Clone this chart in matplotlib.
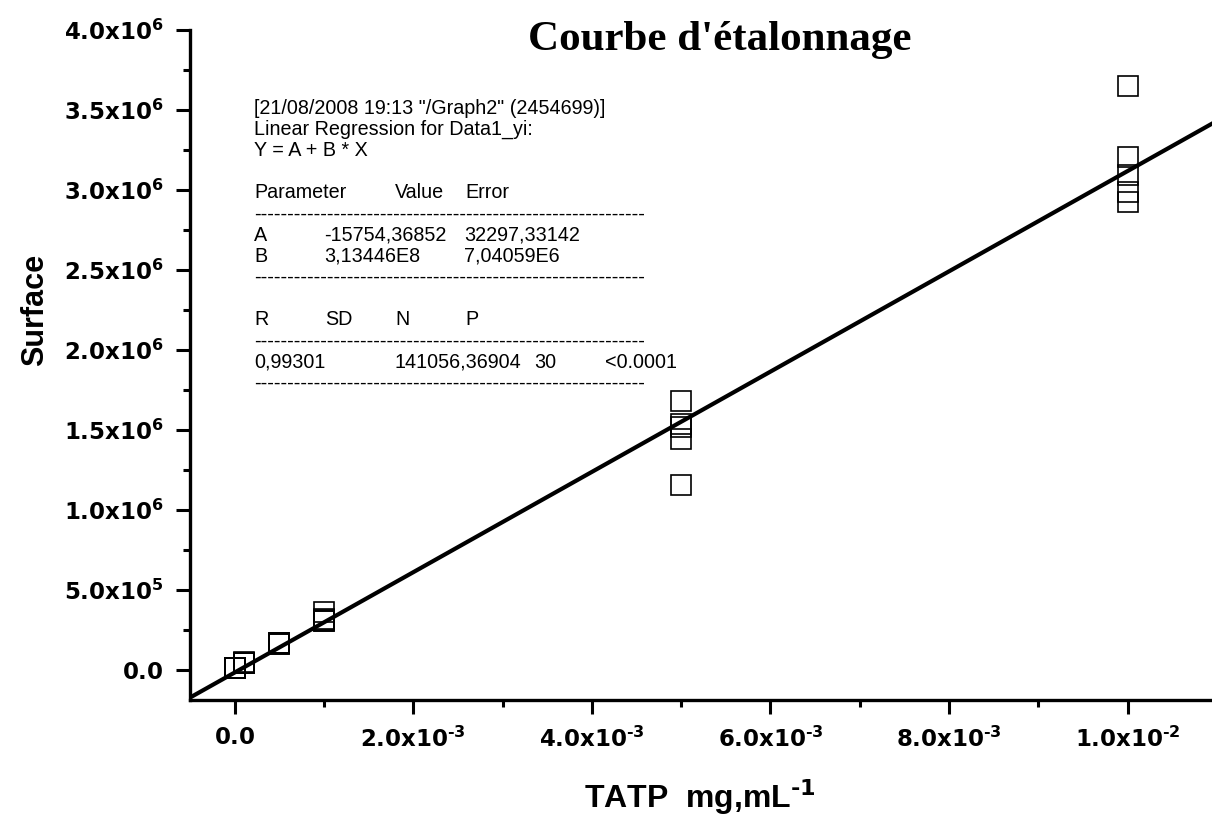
import matplotlib
matplotlib.use("Agg")
import matplotlib.pyplot as plt
from matplotlib.ticker import FixedLocator, MultipleLocator

plt.rcParams["font.family"] = ["Liberation Sans", "DejaVu Sans"]
plt.rcParams["mathtext.fontset"] = "custom"
plt.rcParams["mathtext.rm"] = "DejaVu Sans:bold"
plt.rcParams["mathtext.bf"] = "DejaVu Sans:bold"
plt.rcParams["mathtext.it"] = "DejaVu Sans:bold"

# Calibration measurements: concentration (mg/mL) and peak area, 5 replicates per level
conc = [0.0] * 5 + [1e-4] * 5 + [5e-4] * 5 + [1e-3] * 5 + [5e-3] * 5 + [1e-2] * 5
area = [0.012e6, 0.012e6, 0.013e6, 0.011e6, 0.012e6,
        0.046e6, 0.046e6, 0.047e6, 0.045e6, 0.046e6,
        0.165e6, 0.167e6, 0.166e6, 0.167e6, 0.165e6,
        0.360e6, 0.320e6, 0.307e6, 0.310e6, 0.308e6,
        1.682e6, 1.540e6, 1.519e6, 1.446e6, 1.154e6,
        3.651e6, 3.206e6, 3.096e6, 2.985e6, 2.925e6]

# Linear regression results Y = A + B * X
coef_a = -15754.36852
coef_b = 3.13446e8

x_ticks = [0.0, 2e-3, 4e-3, 6e-3, 8e-3, 1e-2]
x_labels = [r"$\text{0.0}$", r"$\text{2.0x10}^{\text{-3}}$", r"$\text{4.0x10}^{\text{-3}}$",
            r"$\text{6.0x10}^{\text{-3}}$", r"$\text{8.0x10}^{\text{-3}}$",
            r"$\text{1.0x10}^{\text{-2}}$"]
y_ticks = [0.0, 0.5e6, 1.0e6, 1.5e6, 2.0e6, 2.5e6, 3.0e6, 3.5e6, 4.0e6]
y_labels = [r"$\text{0.0}$", r"$\text{5.0x10}^{\text{5}}$", r"$\text{1.0x10}^{\text{6}}$",
            r"$\text{1.5x10}^{\text{6}}$", r"$\text{2.0x10}^{\text{6}}$",
            r"$\text{2.5x10}^{\text{6}}$", r"$\text{3.0x10}^{\text{6}}$",
            r"$\text{3.5x10}^{\text{6}}$", r"$\text{4.0x10}^{\text{6}}$"]

report_header = ['[21/08/2008 19:13 "/Graph2" (2454699)]',
                 "Linear Regression for Data1_yi:",
                 "Y = A + B * X"]
param_cols = ["Parameter", "Value", "Error"]
param_rows = [["A", "-15754,36852", "32297,33142"],
              ["B", "3,13446E8", "7,04059E6"]]
stat_cols = ["R", "SD", "N", "P"]
stat_vals = ["0,99301", "141056,36904", "30", "<0.0001"]

W, H = 1212, 817
fig = plt.figure(figsize=(W / 100, H / 100), dpi=100)
ax = fig.add_axes([190 / W, (H - 700) / H, 1027 / W, 670 / H])

xmin, xmax = -0.0005, 0.011
ax.set_xlim(xmin, xmax)
ax.set_ylim(-0.1875e6, 4.0e6)

ax.plot(conc, area, linestyle="none", marker="s", markersize=14,
        markerfacecolor="none", markeredgecolor="black", markeredgewidth=1.2,
        zorder=2, clip_on=False)
ax.plot([xmin, xmax], [coef_a + coef_b * xmin, coef_a + coef_b * xmax],
        color="black", linewidth=3.0, zorder=3)

for side in ("top", "right"):
    ax.spines[side].set_visible(False)
for side in ("left", "bottom"):
    ax.spines[side].set_linewidth(2.4)

ax.xaxis.set_major_locator(FixedLocator(x_ticks))
ax.set_xticklabels(x_labels)
ax.xaxis.set_minor_locator(MultipleLocator(1e-3))
ax.yaxis.set_major_locator(FixedLocator(y_ticks))
ax.set_yticklabels(y_labels)
ax.yaxis.set_minor_locator(MultipleLocator(0.25e6))
ax.tick_params(which="major", direction="out", length=10, width=2.2,
               labelsize=16.5, pad=9)
ax.tick_params(which="minor", direction="out", length=5, width=2.2)

fig.text(35 / W, 1 - 310 / H, "Surface", rotation=90, fontsize=22,
         fontweight="bold", ha="center", va="center")
fig.text(700 / W, 1 - 808 / H, r"TATP  mg,mL$^{\text{-1}}$", fontsize=23,
         fontweight="bold", ha="center", va="baseline")
fig.text(720 / W, 1 - 40 / H, "Courbe d'étalonnage", fontsize=31,
         fontweight="bold", family="Liberation Serif", ha="center", va="center")


def put(px, py, s):
    fig.text(px / W, 1 - py / H, s, fontsize=14.2, ha="left", va="center")


dashes = "-" * 59
line_y = 108
step = 21.2
for s in report_header:
    put(254, line_y, s)
    line_y += step
line_y += step
for s, px in zip(param_cols, [254, 395, 465]):
    put(px, line_y, s)
line_y += step
put(254, line_y, dashes)
line_y += step
for row in param_rows:
    for s, px in zip(row, [254, 324, 464]):
        put(px, line_y, s)
    line_y += step
put(254, line_y, dashes)
line_y += 2 * step
for s, px in zip(stat_cols, [254, 325, 395, 465]):
    put(px, line_y, s)
line_y += step
put(254, line_y, dashes)
line_y += step
for s, px in zip(stat_vals, [254, 395, 534, 605]):
    put(px, line_y, s)
line_y += step
put(254, line_y, dashes)

fig.savefig("out.png", dpi=100)
